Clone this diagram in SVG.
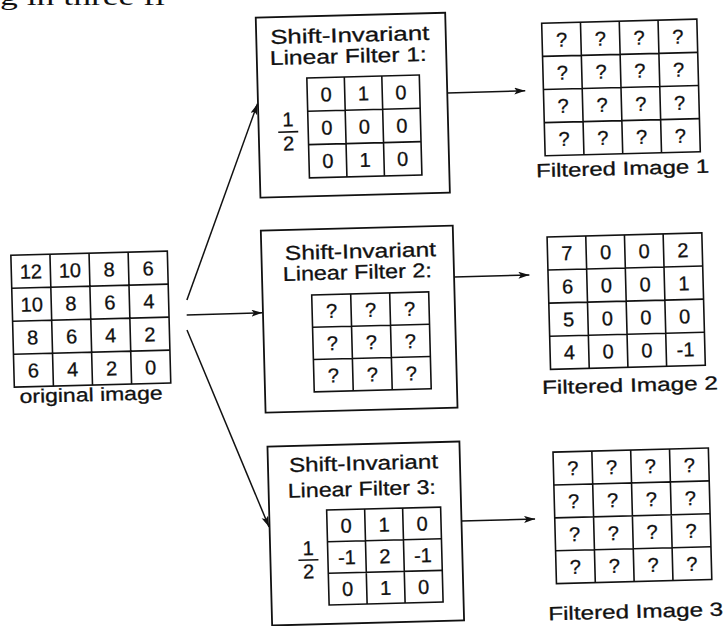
<svg xmlns="http://www.w3.org/2000/svg" width="728" height="626" viewBox="0 0 728 626">
<style>
.box{fill:none;stroke:#111;stroke-width:1.8}
.grid{fill:none;stroke:#111;stroke-width:1.6}
.t{font-family:"Liberation Sans",Arial,sans-serif;font-size:20px;text-anchor:middle;fill:#111;stroke:#111;stroke-width:0.3}
.lbl{font-size:19px}
.frag{font-family:"Liberation Serif","Times New Roman",serif;font-size:26px;fill:#111}
.conn line{stroke:#111;stroke-width:1.5;marker-end:url(#ah)}
</style>
<defs>
<marker id="ah" markerUnits="userSpaceOnUse" markerWidth="12" markerHeight="8" refX="11" refY="3.5" orient="auto">
<path d="M0,0 L11,3.5 L0,7 L2.5,3.5 z" fill="#111"/>
</marker>
</defs>
<rect width="728" height="626" fill="#fff"/>
<text class="frag" x="0" y="5" textLength="165" lengthAdjust="spacingAndGlyphs">g in three fi</text>
<g transform="rotate(-1.5 364 313)">
<g id="original-image">
<rect class="grid" x="12.5" y="246" width="156.5" height="132"/>
<path class="grid" d="M51.6,246V378M90.7,246V378M129.8,246V378M12.5,279H169M12.5,312H169M12.5,345H169"/>
<g class="t">
<text x="32.05" y="269.7">12</text><text x="71.15" y="269.7">10</text><text x="110.25" y="269.7">8</text><text x="149.35" y="269.7">6</text>
<text x="32.05" y="302.7">10</text><text x="71.15" y="302.7">8</text><text x="110.25" y="302.7">6</text><text x="149.35" y="302.7">4</text>
<text x="32.05" y="335.7">8</text><text x="71.15" y="335.7">6</text><text x="110.25" y="335.7">4</text><text x="149.35" y="335.7">2</text>
<text x="32.05" y="368.7">6</text><text x="71.15" y="368.7">4</text><text x="110.25" y="368.7">2</text><text x="149.35" y="368.7">0</text>
<text class="lbl" x="89" y="394" textLength="143" lengthAdjust="spacingAndGlyphs">original image</text>
</g>
</g>
<g id="filter-1">
<rect class="box" x="263.5" y="15" width="189.5" height="180"/>
<g class="t">
<text x="357" y="41.6" textLength="159" lengthAdjust="spacingAndGlyphs">Shift-Invariant</text>
<text x="355" y="62.6" textLength="157" lengthAdjust="spacingAndGlyphs">Linear Filter 1:</text>
</g>
<rect class="grid" x="313" y="76.5" width="112.5" height="100"/>
<path class="grid" d="M350.5,76.5V176.5M388,76.5V176.5M313,109.8H425.5M313,143.2H425.5"/>
<g class="t">
<text x="331.75" y="100.4">0</text><text x="369.25" y="100.4">1</text><text x="406.75" y="100.4">0</text>
<text x="331.75" y="133.7">0</text><text x="369.25" y="133.7">0</text><text x="406.75" y="133.7">0</text>
<text x="331.75" y="167">0</text><text x="369.25" y="167">1</text><text x="406.75" y="167">0</text>
<text x="293" y="124.5">1</text><text x="293" y="148.5">2</text>
</g>
<line x1="283" y1="130" x2="303" y2="130" stroke="#111" stroke-width="1.6"/>
</g>
<g id="filter-2">
<rect class="box" x="263" y="228" width="192" height="182"/>
<g class="t">
<text x="362" y="258" textLength="151" lengthAdjust="spacingAndGlyphs">Shift-Invariant</text>
<text x="358.4" y="278.8" textLength="149" lengthAdjust="spacingAndGlyphs">Linear Filter 2:</text>
</g>
<rect class="grid" x="312.2" y="293.6" width="117" height="96.9"/>
<path class="grid" d="M351.2,293.6V390.5M390.2,293.6V390.5M312.2,325.9H429.2M312.2,358.2H429.2"/>
<g class="t">
<text x="331.7" y="316.95">?</text><text x="370.7" y="316.95">?</text><text x="409.7" y="316.95">?</text>
<text x="331.7" y="349.25">?</text><text x="370.7" y="349.25">?</text><text x="409.7" y="349.25">?</text>
<text x="331.7" y="381.55">?</text><text x="370.7" y="381.55">?</text><text x="409.7" y="381.55">?</text>
</g>
</g>
<g id="filter-3">
<rect class="box" x="264" y="444" width="192" height="179"/>
<g class="t">
<text x="359.6" y="470" textLength="149" lengthAdjust="spacingAndGlyphs">Shift-Invariant</text>
<text x="357.2" y="495.6" textLength="148" lengthAdjust="spacingAndGlyphs">Linear Filter 3:</text>
</g>
<rect class="grid" x="321.5" y="509" width="114" height="95"/>
<path class="grid" d="M359.5,509V604M397.5,509V604M321.5,540.7H435.5M321.5,572.3H435.5"/>
<g class="t">
<text x="340.5" y="532">0</text><text x="378.5" y="532">1</text><text x="416.5" y="532">0</text>
<text x="340.5" y="563.7">-1</text><text x="378.5" y="563.7">2</text><text x="416.5" y="563.7">-1</text>
<text x="340.5" y="595.4">0</text><text x="378.5" y="595.4">1</text><text x="416.5" y="595.4">0</text>
<text x="302" y="553.5">1</text><text x="302" y="576.8">2</text>
</g>
<line x1="292" y1="558.5" x2="312" y2="558.5" stroke="#111" stroke-width="1.6"/>
</g>
<g id="filtered-1">
<rect class="grid" x="549.2" y="28" width="155.2" height="132.6"/>
<path class="grid" d="M588,28V160.6M626.8,28V160.6M665.6,28V160.6M549.2,61.15H704.4M549.2,94.3H704.4M549.2,127.45H704.4"/>
<g class="t">
<text x="568.6" y="51.8">?</text><text x="607.4" y="51.8">?</text><text x="646.2" y="51.8">?</text><text x="685" y="51.8">?</text>
<text x="568.6" y="84.9">?</text><text x="607.4" y="84.9">?</text><text x="646.2" y="84.9">?</text><text x="685" y="84.9">?</text>
<text x="568.6" y="118.1">?</text><text x="607.4" y="118.1">?</text><text x="646.2" y="118.1">?</text><text x="685" y="118.1">?</text>
<text x="568.6" y="151.2">?</text><text x="607.4" y="151.2">?</text><text x="646.2" y="151.2">?</text><text x="685" y="151.2">?</text>
<text class="lbl" x="626.3" y="181.8" textLength="173" lengthAdjust="spacingAndGlyphs">Filtered Image 1</text>
</g>
</g>
<g id="filtered-2">
<rect class="grid" x="549" y="241.8" width="154.8" height="132.4"/>
<path class="grid" d="M587.7,241.8V374.2M626.4,241.8V374.2M665.1,241.8V374.2M549,274.9H703.8M549,308H703.8M549,341.1H703.8"/>
<g class="t">
<text x="568.35" y="265.55">7</text><text x="607.05" y="265.55">0</text><text x="645.75" y="265.55">0</text><text x="684.45" y="265.55">2</text>
<text x="568.35" y="298.65">6</text><text x="607.05" y="298.65">0</text><text x="645.75" y="298.65">0</text><text x="684.45" y="298.65">1</text>
<text x="568.35" y="331.75">5</text><text x="607.05" y="331.75">0</text><text x="645.75" y="331.75">0</text><text x="684.45" y="331.75">0</text>
<text x="568.35" y="364.85">4</text><text x="607.05" y="364.85">0</text><text x="645.75" y="364.85">0</text><text x="684.45" y="364.85">-1</text>
<text class="lbl" x="628" y="398.7" textLength="176" lengthAdjust="spacingAndGlyphs">Filtered Image 2</text>
</g>
</g>
<g id="filtered-3">
<rect class="grid" x="549.3" y="457" width="155.4" height="131.6"/>
<path class="grid" d="M588.15,457V588.6M627,457V588.6M665.85,457V588.6M549.3,489.9H704.7M549.3,522.8H704.7M549.3,555.7H704.7"/>
<g class="t">
<text x="568.7" y="480.65">?</text><text x="607.6" y="480.65">?</text><text x="646.4" y="480.65">?</text><text x="685.3" y="480.65">?</text>
<text x="568.7" y="513.55">?</text><text x="607.6" y="513.55">?</text><text x="646.4" y="513.55">?</text><text x="685.3" y="513.55">?</text>
<text x="568.7" y="546.45">?</text><text x="607.6" y="546.45">?</text><text x="646.4" y="546.45">?</text><text x="685.3" y="546.45">?</text>
<text x="568.7" y="579.35">?</text><text x="607.6" y="579.35">?</text><text x="646.4" y="579.35">?</text><text x="685.3" y="579.35">?</text>
<text class="lbl" x="627.8" y="625" textLength="175" lengthAdjust="spacingAndGlyphs">Filtered Image 3</text>
</g>
</g>
<g id="connectors" class="conn">
<line x1="187.3" y1="295.4" x2="263" y2="101"/>
<line x1="186.7" y1="310.4" x2="262.5" y2="310.2"/>
<line x1="186.6" y1="325.4" x2="263.5" y2="524.5"/>
<line x1="453" y1="95.3" x2="531" y2="95"/>
<line x1="455" y1="279.3" x2="530.3" y2="279.3"/>
<line x1="456" y1="523.5" x2="529.6" y2="523.5"/>
</g>
</g>
</svg>
